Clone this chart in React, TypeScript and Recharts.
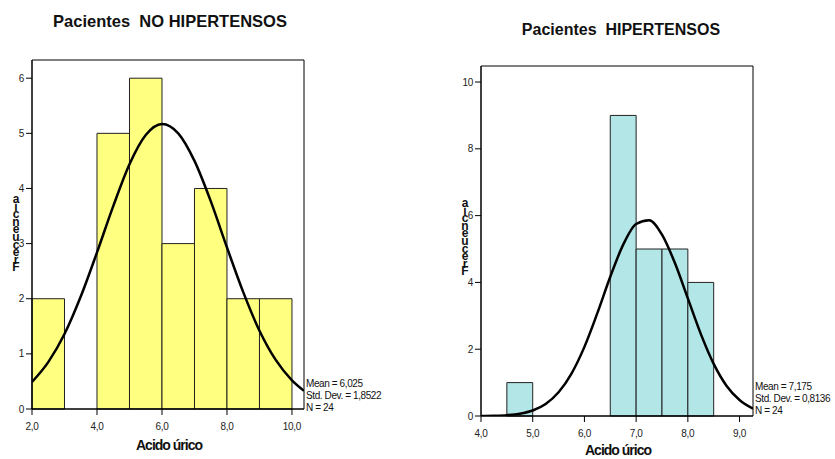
import React from "react";
import { ComposedChart, XAxis, YAxis, Line, ReferenceArea } from "recharts";

// Pacientes NO hipertensos
const noHipEdges = [2, 3, 4, 5, 6, 7, 8, 9, 10];
const noHipCounts = [2, 0, 5, 6, 3, 4, 2, 2];
const noHipCurveX = [2, 2.5, 3, 3.5, 4, 4.5, 5, 5.5, 6, 6.5, 7, 7.5, 8, 8.5, 9, 9.5, 10, 10.37];
const noHipCurveY = [0.49, 0.85, 1.36, 2.04, 2.84, 3.68, 4.44, 4.97, 5.17, 5.0, 4.5, 3.77, 2.93, 2.12, 1.42, 0.89, 0.52, 0.33];
const noHipXTicks = [2, 4, 6, 8, 10];
const noHipYTicks = [0, 1, 2, 3, 4, 5, 6];
const noHipStats = ["Mean = 6,025", "Std. Dev. = 1,8522", "N = 24"];

// Pacientes hipertensos
const hipEdges = [4.5, 5, 5.5, 6, 6.5, 7, 7.5, 8, 8.5];
const hipCounts = [1, 0, 0, 0, 9, 5, 5, 4];
const hipCurveX = [4, 4.25, 4.5, 4.75, 5, 5.25, 5.5, 5.75, 6, 6.25, 6.5, 6.75, 7, 7.25, 7.5, 7.75, 8, 8.25, 8.5, 8.75, 9, 9.26];
const hipCurveY = [0.003, 0.009, 0.026, 0.069, 0.165, 0.36, 0.71, 1.27, 2.07, 3.08, 4.17, 5.13, 5.75, 5.86, 5.43, 4.58, 3.52, 2.46, 1.56, 0.9, 0.48, 0.22];
const hipXTicks = [4, 5, 6, 7, 8, 9];
const hipYTicks = [0, 2, 4, 6, 8, 10];
const hipStats = ["Mean = 7,175", "Std. Dev. = 0,8136", "N = 24"];

const yLabel = "Frecuencia";
const xLabel = "Acido úrico";

const font = "'Liberation Sans', Arial, sans-serif";
const fmt = (v: number) => v.toFixed(1).replace(".", ",");

interface HistProps {
  edges: number[];
  counts: number[];
  curveX: number[];
  curveY: number[];
  xDomain: [number, number];
  yDomain: [number, number];
  xTicks: number[];
  yTicks: number[];
  fill: string;
  width: number;
  height: number;
  margin: { top: number; right: number; bottom: number; left: number };
}

function Histogram(p: HistProps) {
  const data = p.curveX.map((x, i) => ({ x, y: p.curveY[i] }));
  const tick = { fontSize: 10, fill: "#222", fontFamily: font, letterSpacing: -0.3 };
  return (
    <ComposedChart width={p.width} height={p.height} data={data} margin={p.margin}>
      <XAxis
        type="number"
        dataKey="x"
        domain={p.xDomain}
        ticks={p.xTicks}
        interval={0}
        allowDataOverflow
        tickFormatter={fmt}
        tick={tick}
        tickSize={6}
        tickMargin={8}
        axisLine={{ stroke: "#000" }}
        tickLine={{ stroke: "#000" }}
        height={30}
      />
      <YAxis
        type="number"
        domain={p.yDomain}
        ticks={p.yTicks}
        interval={0}
        allowDataOverflow
        tick={tick}
        tickSize={6}
        tickMargin={2}
        axisLine={{ stroke: "#000" }}
        tickLine={{ stroke: "#000" }}
        width={30}
      />
      {p.counts.map((c, i) =>
        c > 0 ? (
          <ReferenceArea
            key={i}
            x1={p.edges[i]}
            x2={p.edges[i + 1]}
            y1={0}
            y2={c}
            fill={p.fill}
            fillOpacity={1}
            stroke="#222"
            strokeWidth={1}
          />
        ) : null
      )}
      <ReferenceArea
        x1={p.xDomain[0]}
        x2={p.xDomain[1]}
        y1={p.yDomain[0]}
        y2={p.yDomain[1]}
        fill="none"
        stroke="#000"
        strokeWidth={1}
      />
      <Line type="monotone" dataKey="y" stroke="#000" strokeWidth={2.5} dot={false} isAnimationActive={false} />
    </ComposedChart>
  );
}

// the y title is drawn as upright letters stacked bottom-to-top, like the original export
function Stacked({ left, top }: { left: number; top: number }) {
  const text = yLabel.split("").reverse().join("\n");
  return (
    <div style={{ position: "absolute", left, top, width: 14, textAlign: "center", fontFamily: font, fontWeight: "bold", fontSize: 12, lineHeight: "7.6px", color: "#111", whiteSpace: "pre-line" }}>
      {text}
    </div>
  );
}

function Stats({ left, top, lines }: { left: number; top: number; lines: string[] }) {
  return (
    <div style={{ position: "absolute", left, top, fontFamily: font, fontSize: 10, lineHeight: "12px", letterSpacing: -0.4, color: "#111", whiteSpace: "pre" }}>
      {lines.map((s, i) => (
        <div key={i}>{s}</div>
      ))}
    </div>
  );
}

export default function App() {
  const titleStyle: React.CSSProperties = { position: "absolute", fontFamily: font, fontWeight: "bold", color: "#111", whiteSpace: "pre", textAlign: "center", width: 300 };
  const axisTitle: React.CSSProperties = { position: "absolute", fontFamily: font, fontWeight: "bold", fontSize: 14, lineHeight: "14px", letterSpacing: -1, color: "#111", textAlign: "center", width: 160 };
  return (
    <div style={{ position: "absolute", left: 0, top: 0, width: 835, height: 459, background: "#fff", overflow: "hidden" }}>
      <div style={{ ...titleStyle, left: 20, top: 13, fontSize: 16.5, lineHeight: "16.5px" }}>{"Pacientes  NO HIPERTENSOS"}</div>
      <div style={{ ...titleStyle, left: 471, top: 22, fontSize: 16, lineHeight: "16px" }}>{"Pacientes  HIPERTENSOS"}</div>

      <div style={{ position: "absolute", left: 0, top: 0 }}>
        <Histogram
          edges={noHipEdges}
          counts={noHipCounts}
          curveX={noHipCurveX}
          curveY={noHipCurveY}
          xDomain={[2, 10.37]}
          yDomain={[0, 6.33]}
          xTicks={noHipXTicks}
          yTicks={noHipYTicks}
          fill="#ffff80"
          width={330}
          height={459}
          margin={{ top: 60, right: 26, bottom: 20, left: 2 }}
        />
      </div>
      <div style={{ position: "absolute", left: 440, top: 0 }}>
        <Histogram
          edges={hipEdges}
          counts={hipCounts}
          curveX={hipCurveX}
          curveY={hipCurveY}
          xDomain={[4, 9.26]}
          yDomain={[0, 10.48]}
          xTicks={hipXTicks}
          yTicks={hipYTicks}
          fill="#b3e6e6"
          width={340}
          height={459}
          margin={{ top: 66, right: 27, bottom: 13, left: 11 }}
        />
      </div>

      <Stacked left={9} top={196} />
      <Stacked left={458} top={200} />

      <Stats left={306} top={378} lines={noHipStats} />
      <Stats left={755} top={381} lines={hipStats} />

      <div style={{ ...axisTitle, left: 89, top: 438 }}>{xLabel}</div>
      <div style={{ ...axisTitle, left: 538, top: 443 }}>{xLabel}</div>
    </div>
  );
}
